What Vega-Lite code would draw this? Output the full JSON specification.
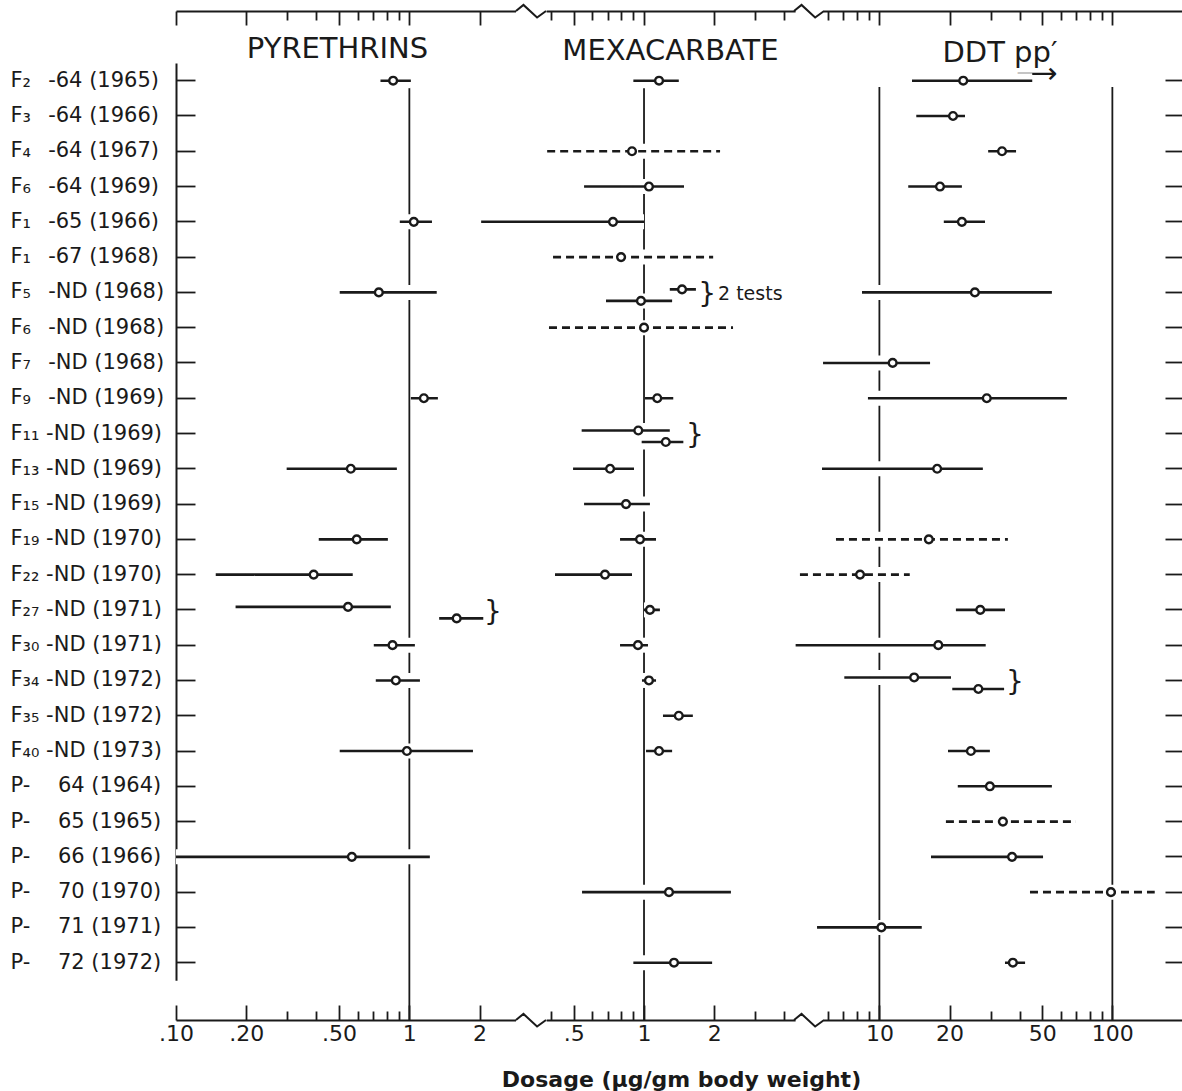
{
  "$schema": "https://vega.github.io/schema/vega-lite/v6.json",
  "width": 1006,
  "height": 1009,
  "autosize": {"type": "none"},
  "padding": {"left": 176, "top": 11, "right": 0, "bottom": 71},
  "background": "white",
  "config": {"view": {"stroke": null}, "font": "DejaVu Sans", "axis": {"zindex": 1, "grid": false}},
  "datasets": {
    "rows": [
      {"row": "F₂\u2002 -64 (1965)"}, {"row": "F₃\u2002 -64 (1966)"}, {"row": "F₄\u2002 -64 (1967)"}, {"row": "F₆\u2002 -64 (1969)"},
      {"row": "F₁\u2002 -65 (1966)"}, {"row": "F₁\u2002 -67 (1968)"}, {"row": "F₅\u2002 -ND (1968)"}, {"row": "F₆\u2002 -ND (1968)"},
      {"row": "F₇\u2002 -ND (1968)"}, {"row": "F₉\u2002 -ND (1969)"}, {"row": "F₁₁ -ND (1969)"}, {"row": "F₁₃ -ND (1969)"},
      {"row": "F₁₅ -ND (1969)"}, {"row": "F₁₉ -ND (1970)"}, {"row": "F₂₂ -ND (1970)"}, {"row": "F₂₇ -ND (1971)"},
      {"row": "F₃₀ -ND (1971)"}, {"row": "F₃₄ -ND (1972)"}, {"row": "F₃₅ -ND (1972)"}, {"row": "F₄₀ -ND (1973)"},
      {"row": "P-\u2003 64 (1964)"}, {"row": "P-\u2003 65 (1965)"}, {"row": "P-\u2003 66 (1966)"}, {"row": "P-\u2003 70 (1970)"},
      {"row": "P-\u2003 71 (1971)"}, {"row": "P-\u2003 72 (1972)"}
    ],
    "refs": [
      {"agent": "pyrethrins", "dose": 1},
      {"agent": "mexacarbate", "dose": 1},
      {"agent": "ddt", "dose": 10},
      {"agent": "ddt", "dose": 100}
    ],
    "breaks": [
      {"edge": "top", "at": 0.3273}, {"edge": "top", "at": 5.108},
      {"edge": "bottom", "at": 0.3273}, {"edge": "bottom", "at": 5.108}
    ],
    "notes": [
      {"agent": "mexacarbate", "row": "F₅\u2002 -ND (1968)", "at": 1.864, "note": "}"},
      {"agent": "mexacarbate", "row": "F₅\u2002 -ND (1968)", "at": 2.078, "note": "2 tests"},
      {"agent": "mexacarbate", "row": "F₁₁ -ND (1969)", "at": 1.655, "note": "}"},
      {"agent": "pyrethrins", "row": "F₂₇ -ND (1971)", "at": 2.283, "note": "}"},
      {"agent": "ddt", "row": "F₃₄ -ND (1972)", "at": 38.2, "note": "}"}
    ],
    "tests": [
      {"row": "F₂\u2002 -64 (1965)", "agent": "pyrethrins", "lo": 0.752, "est": 0.852, "hi": 1.015, "limits": "fiducial", "test": "only"},
      {"row": "F₁\u2002 -65 (1966)", "agent": "pyrethrins", "lo": 0.91, "est": 1.045, "hi": 1.25, "limits": "fiducial", "test": "only"},
      {"row": "F₅\u2002 -ND (1968)", "agent": "pyrethrins", "lo": 0.503, "est": 0.74, "hi": 1.31, "limits": "fiducial", "test": "only"},
      {"row": "F₉\u2002 -ND (1969)", "agent": "pyrethrins", "lo": 1.015, "est": 1.154, "hi": 1.325, "limits": "fiducial", "test": "only"},
      {"row": "F₁₃ -ND (1969)", "agent": "pyrethrins", "lo": 0.298, "est": 0.561, "hi": 0.884, "limits": "fiducial", "test": "only"},
      {"row": "F₁₉ -ND (1970)", "agent": "pyrethrins", "lo": 0.409, "est": 0.595, "hi": 0.809, "limits": "fiducial", "test": "only"},
      {"row": "F₂₂ -ND (1970)", "agent": "pyrethrins", "lo": 0.148, "est": 0.389, "hi": 0.572, "limits": "fiducial", "test": "only"},
      {"row": "F₂₇ -ND (1971)", "agent": "pyrethrins", "lo": 0.18, "est": 0.546, "hi": 0.833, "limits": "fiducial", "test": "first"},
      {"row": "F₂₇ -ND (1971)", "agent": "pyrethrins", "lo": 1.342, "est": 1.595, "hi": 2.074, "limits": "fiducial", "test": "second"},
      {"row": "F₃₀ -ND (1971)", "agent": "pyrethrins", "lo": 0.704, "est": 0.847, "hi": 1.056, "limits": "fiducial", "test": "only"},
      {"row": "F₃₄ -ND (1972)", "agent": "pyrethrins", "lo": 0.718, "est": 0.875, "hi": 1.11, "limits": "fiducial", "test": "only"},
      {"row": "F₄₀ -ND (1973)", "agent": "pyrethrins", "lo": 0.503, "est": 0.976, "hi": 1.873, "limits": "fiducial", "test": "only"},
      {"row": "P-\u2003 66 (1966)", "agent": "pyrethrins", "lo": 0.1, "est": 0.567, "hi": 1.224, "limits": "fiducial", "test": "only"},

      {"row": "F₂\u2002 -64 (1965)", "agent": "mexacarbate", "lo": 0.9, "est": 1.16, "hi": 1.41, "limits": "fiducial", "test": "only"},
      {"row": "F₄\u2002 -64 (1967)", "agent": "mexacarbate", "lo": 0.384, "est": 0.888, "hi": 2.12, "limits": "approximate", "test": "only"},
      {"row": "F₆\u2002 -64 (1969)", "agent": "mexacarbate", "lo": 0.553, "est": 1.05, "hi": 1.485, "limits": "fiducial", "test": "only"},
      {"row": "F₁\u2002 -65 (1966)", "agent": "mexacarbate", "lo": 0.2, "est": 0.736, "hi": 1.0, "limits": "fiducial", "test": "only"},
      {"row": "F₁\u2002 -67 (1968)", "agent": "mexacarbate", "lo": 0.407, "est": 0.797, "hi": 1.98, "limits": "approximate", "test": "only"},
      {"row": "F₅\u2002 -ND (1968)", "agent": "mexacarbate", "lo": 1.29, "est": 1.456, "hi": 1.67, "limits": "fiducial", "test": "first"},
      {"row": "F₅\u2002 -ND (1968)", "agent": "mexacarbate", "lo": 0.687, "est": 0.97, "hi": 1.32, "limits": "fiducial", "test": "second"},
      {"row": "F₆\u2002 -ND (1968)", "agent": "mexacarbate", "lo": 0.391, "est": 1.0, "hi": 2.41, "limits": "approximate", "test": "only"},
      {"row": "F₉\u2002 -ND (1969)", "agent": "mexacarbate", "lo": 1.01, "est": 1.14, "hi": 1.335, "limits": "fiducial", "test": "only"},
      {"row": "F₁₁ -ND (1969)", "agent": "mexacarbate", "lo": 0.54, "est": 0.945, "hi": 1.29, "limits": "fiducial", "test": "first"},
      {"row": "F₁₁ -ND (1969)", "agent": "mexacarbate", "lo": 0.977, "est": 1.24, "hi": 1.475, "limits": "fiducial", "test": "second"},
      {"row": "F₁₃ -ND (1969)", "agent": "mexacarbate", "lo": 0.496, "est": 0.715, "hi": 0.906, "limits": "fiducial", "test": "only"},
      {"row": "F₁₅ -ND (1969)", "agent": "mexacarbate", "lo": 0.553, "est": 0.837, "hi": 1.06, "limits": "fiducial", "test": "only"},
      {"row": "F₁₉ -ND (1970)", "agent": "mexacarbate", "lo": 0.789, "est": 0.961, "hi": 1.126, "limits": "fiducial", "test": "only"},
      {"row": "F₂₂ -ND (1970)", "agent": "mexacarbate", "lo": 0.415, "est": 0.68, "hi": 0.888, "limits": "fiducial", "test": "only"},
      {"row": "F₂₇ -ND (1971)", "agent": "mexacarbate", "lo": 1.0, "est": 1.06, "hi": 1.17, "limits": "fiducial", "test": "only"},
      {"row": "F₃₀ -ND (1971)", "agent": "mexacarbate", "lo": 0.789, "est": 0.942, "hi": 1.04, "limits": "fiducial", "test": "only"},
      {"row": "F₃₄ -ND (1972)", "agent": "mexacarbate", "lo": 0.98, "est": 1.05, "hi": 1.126, "limits": "fiducial", "test": "only"},
      {"row": "F₃₅ -ND (1972)", "agent": "mexacarbate", "lo": 1.206, "est": 1.41, "hi": 1.62, "limits": "fiducial", "test": "only"},
      {"row": "F₄₀ -ND (1973)", "agent": "mexacarbate", "lo": 1.02, "est": 1.16, "hi": 1.32, "limits": "fiducial", "test": "only"},
      {"row": "P-\u2003 70 (1970)", "agent": "mexacarbate", "lo": 0.542, "est": 1.28, "hi": 2.36, "limits": "fiducial", "test": "only"},
      {"row": "P-\u2003 72 (1972)", "agent": "mexacarbate", "lo": 0.9, "est": 1.345, "hi": 1.96, "limits": "fiducial", "test": "only"},

      {"row": "F₂\u2002 -64 (1965)", "agent": "ddt", "lo": 13.8, "est": 22.9, "hi": 45.3, "limits": "fiducial", "test": "only"},
      {"row": "F₃\u2002 -64 (1966)", "agent": "ddt", "lo": 14.4, "est": 20.7, "hi": 23.3, "limits": "fiducial", "test": "only"},
      {"row": "F₄\u2002 -64 (1967)", "agent": "ddt", "lo": 29.3, "est": 33.6, "hi": 38.6, "limits": "fiducial", "test": "only"},
      {"row": "F₆\u2002 -64 (1969)", "agent": "ddt", "lo": 13.3, "est": 18.2, "hi": 22.6, "limits": "fiducial", "test": "only"},
      {"row": "F₁\u2002 -65 (1966)", "agent": "ddt", "lo": 18.9, "est": 22.6, "hi": 28.4, "limits": "fiducial", "test": "only"},
      {"row": "F₅\u2002 -ND (1968)", "agent": "ddt", "lo": 8.42, "est": 25.7, "hi": 55, "limits": "fiducial", "test": "only"},
      {"row": "F₇\u2002 -ND (1968)", "agent": "ddt", "lo": 5.73, "est": 11.4, "hi": 16.5, "limits": "fiducial", "test": "only"},
      {"row": "F₉\u2002 -ND (1969)", "agent": "ddt", "lo": 8.93, "est": 28.9, "hi": 63.8, "limits": "fiducial", "test": "only"},
      {"row": "F₁₃ -ND (1969)", "agent": "ddt", "lo": 5.67, "est": 17.7, "hi": 27.8, "limits": "fiducial", "test": "only"},
      {"row": "F₁₉ -ND (1970)", "agent": "ddt", "lo": 6.51, "est": 16.3, "hi": 35.6, "limits": "approximate", "test": "only"},
      {"row": "F₂₂ -ND (1970)", "agent": "ddt", "lo": 4.56, "est": 8.26, "hi": 13.5, "limits": "approximate", "test": "only"},
      {"row": "F₂₇ -ND (1971)", "agent": "ddt", "lo": 21.3, "est": 27.1, "hi": 34.6, "limits": "fiducial", "test": "only"},
      {"row": "F₃₀ -ND (1971)", "agent": "ddt", "lo": 4.37, "est": 17.9, "hi": 28.6, "limits": "fiducial", "test": "only"},
      {"row": "F₃₄ -ND (1972)", "agent": "ddt", "lo": 7.07, "est": 14.1, "hi": 20.3, "limits": "fiducial", "test": "first"},
      {"row": "F₃₄ -ND (1972)", "agent": "ddt", "lo": 20.55, "est": 26.6, "hi": 34.3, "limits": "fiducial", "test": "second"},
      {"row": "F₄₀ -ND (1973)", "agent": "ddt", "lo": 19.7, "est": 24.7, "hi": 29.8, "limits": "fiducial", "test": "only"},
      {"row": "P-\u2003 64 (1964)", "agent": "ddt", "lo": 21.7, "est": 29.8, "hi": 55, "limits": "fiducial", "test": "only"},
      {"row": "P-\u2003 65 (1965)", "agent": "ddt", "lo": 19.3, "est": 33.9, "hi": 69.8, "limits": "approximate", "test": "only"},
      {"row": "P-\u2003 66 (1966)", "agent": "ddt", "lo": 16.65, "est": 37.1, "hi": 50.4, "limits": "fiducial", "test": "only"},
      {"row": "P-\u2003 70 (1970)", "agent": "ddt", "lo": 44.3, "est": 98.6, "hi": 152, "limits": "approximate", "test": "only"},
      {"row": "P-\u2003 71 (1971)", "agent": "ddt", "lo": 5.4, "est": 10.2, "hi": 15.2, "limits": "fiducial", "test": "only"},
      {"row": "P-\u2003 72 (1972)", "agent": "ddt", "lo": 34.6, "est": 37.4, "hi": 42.2, "limits": "fiducial", "test": "only"}
    ]
  },
  "layer": [
    {
      "resolve": {"scale": {"x": "independent"}},
      "layer": [
        {
          "data": {"name": "refs"},
          "transform": [{"filter": "datum.agent == 'pyrethrins'"}],
          "mark": {"type": "rule", "color": "#1a1a1a", "strokeWidth": 1.8},
          "encoding": {
            "x": {"field": "dose", "type": "quantitative",
              "scale": {"type": "log", "domain": [0.1, 2.85], "range": [0, 339.5], "nice": false},
              "axis": {"orient": "top", "values": [0.1, 0.2, 0.3, 0.4, 0.5, 0.6, 0.7, 0.8, 0.9, 1, 2], "labels": false,
                "tickSize": {"condition": {"test": "indexof([0.1,0.2,0.5,1,2], datum.value) >= 0", "value": -14}, "value": -9},
                "tickWidth": 1.8, "tickColor": "#1a1a1a", "domain": true, "domainWidth": 2, "domainColor": "#1a1a1a",
                "title": "PYRETHRINS", "titleX": 161, "titleY": 46, "titleAlign": "center", "titleBaseline": "alphabetic",
                "titleFontSize": 29, "titleFontWeight": "normal", "titleFont": "DejaVu Sans", "titleColor": "#1a1a1a"}},
            "y": {"datum": "F₂\u2002 -64 (1965)", "type": "nominal", "bandPosition": 0.679,
              "scale": {"type": "band", "paddingInner": 0, "paddingOuter": 0, "round": false, "range": [52.06, 969.34],
                "domain": ["F₂\u2002 -64 (1965)", "F₃\u2002 -64 (1966)", "F₄\u2002 -64 (1967)", "F₆\u2002 -64 (1969)", "F₁\u2002 -65 (1966)", "F₁\u2002 -67 (1968)", "F₅\u2002 -ND (1968)", "F₆\u2002 -ND (1968)", "F₇\u2002 -ND (1968)", "F₉\u2002 -ND (1969)", "F₁₁ -ND (1969)", "F₁₃ -ND (1969)", "F₁₅ -ND (1969)", "F₁₉ -ND (1970)", "F₂₂ -ND (1970)", "F₂₇ -ND (1971)", "F₃₀ -ND (1971)", "F₃₄ -ND (1972)", "F₃₅ -ND (1972)", "F₄₀ -ND (1973)", "P-\u2003 64 (1964)", "P-\u2003 65 (1965)", "P-\u2003 66 (1966)", "P-\u2003 70 (1970)", "P-\u2003 71 (1971)", "P-\u2003 72 (1972)"]},
              "axis": {"orient": "left", "title": null, "domain": true, "domainWidth": 2, "domainColor": "#1a1a1a",
                "ticks": true, "tickSize": -19, "tickWidth": 1.8, "tickColor": "#1a1a1a",
                "labelAlign": "left", "labelBaseline": "middle", "labelPadding": 185, "labelLimit": 400,
                "labelFont": "DejaVu Sans", "labelFontSize": 21, "labelColor": "#1a1a1a"}},
            "y2": {"datum": "P-\u2003 72 (1972)", "bandPosition": 2.124}
          }
        },
        {
          "data": {"name": "tests"},
          "transform": [{"filter": "datum.agent == 'pyrethrins'"}],
          "layer": [
            {
              "transform": [{"filter": "datum.test == 'only'"}],
              "encoding": {"y": {"field": "row", "type": "nominal", "bandPosition": 0.5}},
              "layer": [
                {"mark": {"type": "rule", "color": "white", "strokeWidth": 15},
                 "encoding": {"x": {"field": "lo", "type": "quantitative", "scale": {"type": "log", "domain": [0.1, 2.85], "range": [0, 339.5], "nice": false},
                   "axis": {"orient": "bottom", "values": [0.1, 0.2, 0.3, 0.4, 0.5, 0.6, 0.7, 0.8, 0.9, 1, 2],
                     "labelExpr": "datum.value == 0.1 ? '.10' : datum.value == 0.2 ? '.20' : datum.value == 0.5 ? '.50' : datum.value == 1 ? '1' : datum.value == 2 ? '2' : ''",
                     "tickSize": {"condition": {"test": "indexof([0.1,0.2,0.5,1,2], datum.value) >= 0", "value": -15}, "value": -9},
                     "tickWidth": 1.8, "tickColor": "#1a1a1a", "domain": true, "domainWidth": 2, "domainColor": "#1a1a1a",
                     "labelFlush": false, "labelOverlap": false, "labelBound": false, "labelPadding": 18, "labelBaseline": "top",
                     "labelFont": "DejaVu Sans", "labelFontSize": 22, "labelColor": "#1a1a1a", "title": null}},
                   "x2": {"field": "hi"}}},
                {"mark": {"type": "rule", "color": "#1a1a1a", "strokeWidth": 2.6},
                 "encoding": {"x": {"field": "lo", "type": "quantitative", "scale": {"type": "log", "domain": [0.1, 2.85], "range": [0, 339.5], "nice": false}},
                   "x2": {"field": "hi"},
                   "strokeDash": {"field": "limits", "type": "nominal", "scale": {"domain": ["fiducial", "approximate"], "range": [[1, 0], [8, 5]]}, "legend": null}}},
                {"mark": {"type": "point", "shape": "circle", "filled": true, "fill": "white", "stroke": "#1a1a1a", "strokeWidth": 2.4, "size": 60, "opacity": 1},
                 "encoding": {"x": {"field": "est", "type": "quantitative", "scale": {"type": "log", "domain": [0.1, 2.85], "range": [0, 339.5], "nice": false}}}}
              ]
            },
            {
              "transform": [{"filter": "datum.test == 'first'"}],
              "encoding": {"y": {"field": "row", "type": "nominal", "bandPosition": 0.415}},
              "layer": [
                {"mark": {"type": "rule", "color": "white", "strokeWidth": 15},
                 "encoding": {"x": {"field": "lo", "type": "quantitative", "scale": {"type": "log", "domain": [0.1, 2.85], "range": [0, 339.5], "nice": false}}, "x2": {"field": "hi"}}},
                {"mark": {"type": "rule", "color": "#1a1a1a", "strokeWidth": 2.6},
                 "encoding": {"x": {"field": "lo", "type": "quantitative", "scale": {"type": "log", "domain": [0.1, 2.85], "range": [0, 339.5], "nice": false}}, "x2": {"field": "hi"},
                   "strokeDash": {"field": "limits", "type": "nominal", "scale": {"domain": ["fiducial", "approximate"], "range": [[1, 0], [8, 5]]}, "legend": null}}},
                {"mark": {"type": "point", "shape": "circle", "filled": true, "fill": "white", "stroke": "#1a1a1a", "strokeWidth": 2.4, "size": 60, "opacity": 1},
                 "encoding": {"x": {"field": "est", "type": "quantitative", "scale": {"type": "log", "domain": [0.1, 2.85], "range": [0, 339.5], "nice": false}}}}
              ]
            },
            {
              "transform": [{"filter": "datum.test == 'second'"}],
              "encoding": {"y": {"field": "row", "type": "nominal", "bandPosition": 0.741}},
              "layer": [
                {"mark": {"type": "rule", "color": "white", "strokeWidth": 15},
                 "encoding": {"x": {"field": "lo", "type": "quantitative", "scale": {"type": "log", "domain": [0.1, 2.85], "range": [0, 339.5], "nice": false}}, "x2": {"field": "hi"}}},
                {"mark": {"type": "rule", "color": "#1a1a1a", "strokeWidth": 2.6},
                 "encoding": {"x": {"field": "lo", "type": "quantitative", "scale": {"type": "log", "domain": [0.1, 2.85], "range": [0, 339.5], "nice": false}}, "x2": {"field": "hi"},
                   "strokeDash": {"field": "limits", "type": "nominal", "scale": {"domain": ["fiducial", "approximate"], "range": [[1, 0], [8, 5]]}, "legend": null}}},
                {"mark": {"type": "point", "shape": "circle", "filled": true, "fill": "white", "stroke": "#1a1a1a", "strokeWidth": 2.4, "size": 60, "opacity": 1},
                 "encoding": {"x": {"field": "est", "type": "quantitative", "scale": {"type": "log", "domain": [0.1, 2.85], "range": [0, 339.5], "nice": false}}}}
              ]
            },
            {
              "data": {"name": "notes"},
              "transform": [{"filter": "datum.agent == 'pyrethrins' && datum.note == '}'"}],
              "mark": {"type": "text", "fontSize": 28, "align": "center", "baseline": "middle", "color": "#1a1a1a", "font": "DejaVu Sans"},
              "encoding": {"x": {"field": "at", "type": "quantitative", "scale": {"type": "log", "domain": [0.1, 2.85], "range": [0, 339.5], "nice": false}},
                "y": {"field": "row", "type": "nominal", "bandPosition": 0.578}, "text": {"field": "note"}}
            }
          ]
        },
        {
          "data": {"name": "refs"},
          "transform": [{"filter": "datum.agent == 'mexacarbate'"}],
          "mark": {"type": "rule", "color": "#1a1a1a", "strokeWidth": 1.8},
          "encoding": {
            "x": {"field": "dose", "type": "quantitative",
              "scale": {"type": "log", "domain": [0.38, 4.45], "range": [370.1, 619.1], "nice": false},
              "axis": {"orient": "top", "values": [0.4, 0.5, 0.6, 0.7, 0.8, 0.9, 1, 2, 3, 4], "labels": false,
                "tickSize": {"condition": {"test": "indexof([0.5,1,2], datum.value) >= 0", "value": -14}, "value": -9},
                "tickWidth": 1.8, "tickColor": "#1a1a1a", "domain": true, "domainWidth": 2, "domainColor": "#1a1a1a",
                "title": "MEXACARBATE", "titleX": 494, "titleY": 48, "titleAlign": "center", "titleBaseline": "alphabetic",
                "titleFontSize": 29, "titleFontWeight": "normal", "titleFont": "DejaVu Sans", "titleColor": "#1a1a1a"}},
            "y": {"datum": "F₂\u2002 -64 (1965)", "type": "nominal", "bandPosition": 0.679},
            "y2": {"datum": "P-\u2003 72 (1972)", "bandPosition": 2.124}
          }
        },
        {
          "data": {"name": "tests"},
          "transform": [{"filter": "datum.agent == 'mexacarbate'"}],
          "layer": [
            {
              "transform": [{"filter": "datum.test == 'only'"}],
              "encoding": {"y": {"field": "row", "type": "nominal", "bandPosition": 0.5}},
              "layer": [
                {"mark": {"type": "rule", "color": "white", "strokeWidth": 15},
                 "encoding": {"x": {"field": "lo", "type": "quantitative", "scale": {"type": "log", "domain": [0.38, 4.45], "range": [370.1, 619.1], "nice": false},
                   "axis": {"orient": "bottom", "values": [0.4, 0.5, 0.6, 0.7, 0.8, 0.9, 1, 2, 3, 4],
                     "labelExpr": "datum.value == 0.5 ? '.5' : datum.value == 1 ? '1' : datum.value == 2 ? '2' : ''",
                     "tickSize": {"condition": {"test": "indexof([0.5,1,2], datum.value) >= 0", "value": -15}, "value": -9},
                     "tickWidth": 1.8, "tickColor": "#1a1a1a", "domain": true, "domainWidth": 2, "domainColor": "#1a1a1a",
                     "labelFlush": false, "labelOverlap": false, "labelBound": false, "labelPadding": 18, "labelBaseline": "top",
                     "labelFont": "DejaVu Sans", "labelFontSize": 22, "labelColor": "#1a1a1a",
                     "title": "Dosage (µg/gm body weight)", "titleX": 505, "titleY": 66, "titleAlign": "center", "titleBaseline": "alphabetic",
                     "titleFontSize": 22, "titleFontWeight": "bold", "titleFont": "DejaVu Sans", "titleColor": "#1a1a1a"}},
                   "x2": {"field": "hi"}}},
                {"mark": {"type": "rule", "color": "#1a1a1a", "strokeWidth": 2.6},
                 "encoding": {"x": {"field": "lo", "type": "quantitative", "scale": {"type": "log", "domain": [0.38, 4.45], "range": [370.1, 619.1], "nice": false}},
                   "x2": {"field": "hi"},
                   "strokeDash": {"field": "limits", "type": "nominal", "scale": {"domain": ["fiducial", "approximate"], "range": [[1, 0], [8, 5]]}, "legend": null}}},
                {"mark": {"type": "point", "shape": "circle", "filled": true, "fill": "white", "stroke": "#1a1a1a", "strokeWidth": 2.4, "size": 60, "opacity": 1},
                 "encoding": {"x": {"field": "est", "type": "quantitative", "scale": {"type": "log", "domain": [0.38, 4.45], "range": [370.1, 619.1], "nice": false}}}}
              ]
            },
            {
              "transform": [{"filter": "datum.test == 'first'"}],
              "encoding": {"y": {"field": "row", "type": "nominal", "bandPosition": 0.415}},
              "layer": [
                {"mark": {"type": "rule", "color": "white", "strokeWidth": 15},
                 "encoding": {"x": {"field": "lo", "type": "quantitative", "scale": {"type": "log", "domain": [0.38, 4.45], "range": [370.1, 619.1], "nice": false}}, "x2": {"field": "hi"}}},
                {"mark": {"type": "rule", "color": "#1a1a1a", "strokeWidth": 2.6},
                 "encoding": {"x": {"field": "lo", "type": "quantitative", "scale": {"type": "log", "domain": [0.38, 4.45], "range": [370.1, 619.1], "nice": false}}, "x2": {"field": "hi"},
                   "strokeDash": {"field": "limits", "type": "nominal", "scale": {"domain": ["fiducial", "approximate"], "range": [[1, 0], [8, 5]]}, "legend": null}}},
                {"mark": {"type": "point", "shape": "circle", "filled": true, "fill": "white", "stroke": "#1a1a1a", "strokeWidth": 2.4, "size": 60, "opacity": 1},
                 "encoding": {"x": {"field": "est", "type": "quantitative", "scale": {"type": "log", "domain": [0.38, 4.45], "range": [370.1, 619.1], "nice": false}}}}
              ]
            },
            {
              "transform": [{"filter": "datum.test == 'second'"}],
              "encoding": {"y": {"field": "row", "type": "nominal", "bandPosition": 0.741}},
              "layer": [
                {"mark": {"type": "rule", "color": "white", "strokeWidth": 15},
                 "encoding": {"x": {"field": "lo", "type": "quantitative", "scale": {"type": "log", "domain": [0.38, 4.45], "range": [370.1, 619.1], "nice": false}}, "x2": {"field": "hi"}}},
                {"mark": {"type": "rule", "color": "#1a1a1a", "strokeWidth": 2.6},
                 "encoding": {"x": {"field": "lo", "type": "quantitative", "scale": {"type": "log", "domain": [0.38, 4.45], "range": [370.1, 619.1], "nice": false}}, "x2": {"field": "hi"},
                   "strokeDash": {"field": "limits", "type": "nominal", "scale": {"domain": ["fiducial", "approximate"], "range": [[1, 0], [8, 5]]}, "legend": null}}},
                {"mark": {"type": "point", "shape": "circle", "filled": true, "fill": "white", "stroke": "#1a1a1a", "strokeWidth": 2.4, "size": 60, "opacity": 1},
                 "encoding": {"x": {"field": "est", "type": "quantitative", "scale": {"type": "log", "domain": [0.38, 4.45], "range": [370.1, 619.1], "nice": false}}}}
              ]
            },
            {
              "data": {"name": "notes"},
              "transform": [{"filter": "datum.agent == 'mexacarbate' && datum.note == '}'"}],
              "mark": {"type": "text", "fontSize": 28, "align": "center", "baseline": "middle", "color": "#1a1a1a", "font": "DejaVu Sans"},
              "encoding": {"x": {"field": "at", "type": "quantitative", "scale": {"type": "log", "domain": [0.38, 4.45], "range": [370.1, 619.1], "nice": false}},
                "y": {"field": "row", "type": "nominal", "bandPosition": 0.578}, "text": {"field": "note"}}
            },
            {
              "data": {"name": "notes"},
              "transform": [{"filter": "datum.agent == 'mexacarbate' && datum.note != '}'"}],
              "mark": {"type": "text", "fontSize": 19, "align": "left", "baseline": "middle", "color": "#1a1a1a", "font": "DejaVu Sans"},
              "encoding": {"x": {"field": "at", "type": "quantitative", "scale": {"type": "log", "domain": [0.38, 4.45], "range": [370.1, 619.1], "nice": false}},
                "y": {"field": "row", "type": "nominal", "bandPosition": 0.54}, "text": {"field": "note"}}
            }
          ]
        },
        {
          "data": {"name": "refs"},
          "transform": [{"filter": "datum.agent == 'ddt'"}],
          "mark": {"type": "rule", "color": "#1a1a1a", "strokeWidth": 1.8},
          "encoding": {
            "x": {"field": "dose", "type": "quantitative",
              "scale": {"type": "log", "domain": [5.75, 200], "range": [647.4, 1006.5], "nice": false},
              "axis": {"orient": "top", "values": [6, 7, 8, 9, 10, 20, 30, 40, 50, 60, 70, 80, 90, 100], "labels": false,
                "tickSize": {"condition": {"test": "indexof([10,20,50,100], datum.value) >= 0", "value": -14}, "value": -9},
                "tickWidth": 1.8, "tickColor": "#1a1a1a", "domain": true, "domainWidth": 2, "domainColor": "#1a1a1a",
                "title": ["DDT pp′", "⟶"], "titleX": 881, "titleY": 50, "titleAlign": "right", "titleBaseline": "alphabetic", "titleLineHeight": 21,
                "titleFontSize": 29, "titleFontWeight": "normal", "titleFont": "DejaVu Sans", "titleColor": "#1a1a1a"}},
            "y": {"datum": "F₂\u2002 -64 (1965)", "type": "nominal", "bandPosition": 0.679},
            "y2": {"datum": "P-\u2003 72 (1972)", "bandPosition": 2.124}
          }
        },
        {
          "data": {"name": "tests"},
          "transform": [{"filter": "datum.agent == 'ddt'"}],
          "layer": [
            {
              "transform": [{"filter": "datum.test == 'only'"}],
              "encoding": {"y": {"field": "row", "type": "nominal", "bandPosition": 0.5}},
              "layer": [
                {"mark": {"type": "rule", "color": "white", "strokeWidth": 15},
                 "encoding": {"x": {"field": "lo", "type": "quantitative", "scale": {"type": "log", "domain": [5.75, 200], "range": [647.4, 1006.5], "nice": false},
                   "axis": {"orient": "bottom", "values": [6, 7, 8, 9, 10, 20, 30, 40, 50, 60, 70, 80, 90, 100],
                     "labelExpr": "datum.value == 10 ? '10' : datum.value == 20 ? '20' : datum.value == 50 ? '50' : datum.value == 100 ? '100' : ''",
                     "tickSize": {"condition": {"test": "indexof([10,20,50,100], datum.value) >= 0", "value": -15}, "value": -9},
                     "tickWidth": 1.8, "tickColor": "#1a1a1a", "domain": true, "domainWidth": 2, "domainColor": "#1a1a1a",
                     "labelFlush": false, "labelOverlap": false, "labelBound": false, "labelPadding": 18, "labelBaseline": "top",
                     "labelFont": "DejaVu Sans", "labelFontSize": 22, "labelColor": "#1a1a1a", "title": null}},
                   "x2": {"field": "hi"}}},
                {"mark": {"type": "rule", "color": "#1a1a1a", "strokeWidth": 2.6},
                 "encoding": {"x": {"field": "lo", "type": "quantitative", "scale": {"type": "log", "domain": [5.75, 200], "range": [647.4, 1006.5], "nice": false}},
                   "x2": {"field": "hi"},
                   "strokeDash": {"field": "limits", "type": "nominal", "scale": {"domain": ["fiducial", "approximate"], "range": [[1, 0], [8, 5]]}, "legend": null}}},
                {"mark": {"type": "point", "shape": "circle", "filled": true, "fill": "white", "stroke": "#1a1a1a", "strokeWidth": 2.4, "size": 60, "opacity": 1},
                 "encoding": {"x": {"field": "est", "type": "quantitative", "scale": {"type": "log", "domain": [5.75, 200], "range": [647.4, 1006.5], "nice": false}}}}
              ]
            },
            {
              "transform": [{"filter": "datum.test == 'first'"}],
              "encoding": {"y": {"field": "row", "type": "nominal", "bandPosition": 0.415}},
              "layer": [
                {"mark": {"type": "rule", "color": "white", "strokeWidth": 15},
                 "encoding": {"x": {"field": "lo", "type": "quantitative", "scale": {"type": "log", "domain": [5.75, 200], "range": [647.4, 1006.5], "nice": false}}, "x2": {"field": "hi"}}},
                {"mark": {"type": "rule", "color": "#1a1a1a", "strokeWidth": 2.6},
                 "encoding": {"x": {"field": "lo", "type": "quantitative", "scale": {"type": "log", "domain": [5.75, 200], "range": [647.4, 1006.5], "nice": false}}, "x2": {"field": "hi"},
                   "strokeDash": {"field": "limits", "type": "nominal", "scale": {"domain": ["fiducial", "approximate"], "range": [[1, 0], [8, 5]]}, "legend": null}}},
                {"mark": {"type": "point", "shape": "circle", "filled": true, "fill": "white", "stroke": "#1a1a1a", "strokeWidth": 2.4, "size": 60, "opacity": 1},
                 "encoding": {"x": {"field": "est", "type": "quantitative", "scale": {"type": "log", "domain": [5.75, 200], "range": [647.4, 1006.5], "nice": false}}}}
              ]
            },
            {
              "transform": [{"filter": "datum.test == 'second'"}],
              "encoding": {"y": {"field": "row", "type": "nominal", "bandPosition": 0.741}},
              "layer": [
                {"mark": {"type": "rule", "color": "white", "strokeWidth": 15},
                 "encoding": {"x": {"field": "lo", "type": "quantitative", "scale": {"type": "log", "domain": [5.75, 200], "range": [647.4, 1006.5], "nice": false}}, "x2": {"field": "hi"}}},
                {"mark": {"type": "rule", "color": "#1a1a1a", "strokeWidth": 2.6},
                 "encoding": {"x": {"field": "lo", "type": "quantitative", "scale": {"type": "log", "domain": [5.75, 200], "range": [647.4, 1006.5], "nice": false}}, "x2": {"field": "hi"},
                   "strokeDash": {"field": "limits", "type": "nominal", "scale": {"domain": ["fiducial", "approximate"], "range": [[1, 0], [8, 5]]}, "legend": null}}},
                {"mark": {"type": "point", "shape": "circle", "filled": true, "fill": "white", "stroke": "#1a1a1a", "strokeWidth": 2.4, "size": 60, "opacity": 1},
                 "encoding": {"x": {"field": "est", "type": "quantitative", "scale": {"type": "log", "domain": [5.75, 200], "range": [647.4, 1006.5], "nice": false}}}}
              ]
            },
            {
              "data": {"name": "notes"},
              "transform": [{"filter": "datum.agent == 'ddt' && datum.note == '}'"}],
              "mark": {"type": "text", "fontSize": 28, "align": "center", "baseline": "middle", "color": "#1a1a1a", "font": "DejaVu Sans"},
              "encoding": {"x": {"field": "at", "type": "quantitative", "scale": {"type": "log", "domain": [5.75, 200], "range": [647.4, 1006.5], "nice": false}},
                "y": {"field": "row", "type": "nominal", "bandPosition": 0.578}, "text": {"field": "note"}}
            }
          ]
        }
      ]
    },
    {
      "data": {"name": "breaks"},
      "mark": {"type": "point", "shape": "M -0.94 0 L -0.47 -0.38 L 0.38 0.41 L 0.94 0", "filled": false, "stroke": "#1a1a1a", "strokeWidth": 2, "size": 1024, "opacity": 1},
      "encoding": {
        "x": {"field": "at", "type": "quantitative", "scale": {"type": "log", "domain": [0.38, 4.45], "range": [370.1, 619.1], "nice": false}, "axis": null},
        "y": {"field": "edge", "type": "nominal", "scale": {"type": "point", "domain": ["top", "bottom"], "padding": 0}, "axis": null}
      }
    },
    {
      "data": {"name": "rows"},
      "mark": {"type": "point", "opacity": 0},
      "encoding": {
        "y": {"field": "row", "type": "nominal",
          "scale": {"type": "band", "paddingInner": 0, "paddingOuter": 0, "round": false, "range": [52.06, 969.34],
            "domain": ["F₂\u2002 -64 (1965)", "F₃\u2002 -64 (1966)", "F₄\u2002 -64 (1967)", "F₆\u2002 -64 (1969)", "F₁\u2002 -65 (1966)", "F₁\u2002 -67 (1968)", "F₅\u2002 -ND (1968)", "F₆\u2002 -ND (1968)", "F₇\u2002 -ND (1968)", "F₉\u2002 -ND (1969)", "F₁₁ -ND (1969)", "F₁₃ -ND (1969)", "F₁₅ -ND (1969)", "F₁₉ -ND (1970)", "F₂₂ -ND (1970)", "F₂₇ -ND (1971)", "F₃₀ -ND (1971)", "F₃₄ -ND (1972)", "F₃₅ -ND (1972)", "F₄₀ -ND (1973)", "P-\u2003 64 (1964)", "P-\u2003 65 (1965)", "P-\u2003 66 (1966)", "P-\u2003 70 (1970)", "P-\u2003 71 (1971)", "P-\u2003 72 (1972)"]},
          "axis": {"orient": "right", "title": null, "domain": false, "labels": false, "ticks": true, "tickSize": -17, "tickWidth": 1.8, "tickColor": "#1a1a1a"}}
      }
    }
  ],
  "resolve": {"scale": {"x": "independent", "y": "independent"}}
}
